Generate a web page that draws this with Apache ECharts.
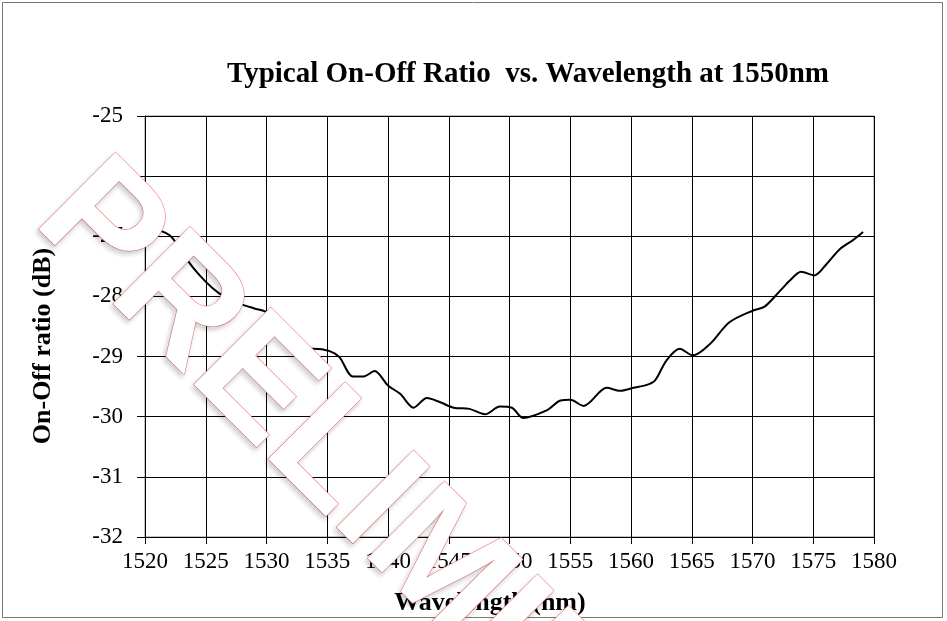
<!DOCTYPE html>
<html>
<head>
<meta charset="utf-8">
<script src="https://cdn.jsdelivr.net/npm/echarts@6/dist/echarts.min.js"></script>
<style>
  html, body { margin: 0; padding: 0; background: #fff; }
  #main { width: 947px; height: 621px; }
</style>
</head>
<body>
<div id="main"></div>
<script>
// wavelength (nm) and on-off ratio (dB)
var wavelength = [
  1520.8, 1521.3, 1522.0, 1522.6, 1523.5, 1524.5, 1525.5, 1526.5, 1527.8, 1529.0,
  1530.0, 1531.4, 1533.0, 1533.9, 1535.2, 1536.0, 1537.1, 1538.0, 1538.9, 1540.0,
  1541.0, 1542.1, 1543.2, 1544.3, 1545.4, 1546.7, 1548.0, 1549.2, 1550.2, 1551.1,
  1553.1, 1554.2, 1555.0, 1556.1, 1558.0, 1559.1, 1560.2, 1561.3, 1562.0, 1562.9,
  1564.0, 1565.1, 1566.5, 1568.1, 1570.1, 1571.0, 1572.3, 1573.1, 1574.0, 1575.1,
  1576.1, 1577.2, 1578.3, 1579.1
];
var ratio = [
  -26.90, -26.91, -26.98, -27.12, -27.40, -27.65, -27.85, -28.00, -28.12, -28.20,
  -28.26, -28.46, -28.87, -28.87, -28.91, -29.01, -29.33, -29.33, -29.24, -29.48,
  -29.62, -29.85, -29.69, -29.76, -29.85, -29.87, -29.96, -29.83, -29.85, -30.02,
  -29.89, -29.73, -29.72, -29.82, -29.52, -29.57, -29.52, -29.47, -29.39, -29.07,
  -28.87, -28.98, -28.79, -28.43, -28.23, -28.17, -27.90, -27.73, -27.59, -27.65,
  -27.46, -27.21, -27.06, -26.93
];
var xTicks = [1520, 1580, 5];
var yTicks = [-32, -25, 1];

var chartTitle = 'Typical On-Off Ratio  vs. Wavelength at 1550nm';
var xName = 'Wavelength (nm)';
var yName = 'On-Off ratio (dB)';
var stamp = 'PRELIMINARY';

var serif = '"Liberation Serif", "Times New Roman", serif';

var myChart = echarts.init(document.getElementById('main'));

var points = wavelength.map(function (w, i) { return [w, ratio[i]]; });

// watermark: baseline runs down-right at 45 degrees
var ang = -Math.PI / 4;

var option = {
  animation: false,
  backgroundColor: '#fff',
  title: {
    text: chartTitle,
    left: 523,
    top: 55,
    textAlign: 'center',
    textStyle: { fontFamily: serif, fontSize: 29, fontWeight: 'bold', color: '#000' }
  },
  grid: {
    left: 145, right: 73, top: 116, bottom: 84,
    show: true, borderColor: '#888', borderWidth: 1
  },
  xAxis: {
    type: 'value',
    min: xTicks[0], max: xTicks[1], interval: xTicks[2],
    axisLine: { onZero: false, lineStyle: { color: '#000', width: 1 } },
    axisTick: { show: true, length: 7, lineStyle: { color: '#000' } },
    axisLabel: {
      fontFamily: serif, fontSize: 23, color: '#000', margin: 13,
      formatter: function (v) { return String(v); }
    },
    splitLine: { show: true, lineStyle: { color: '#000', width: 1 } }
  },
  yAxis: {
    type: 'value',
    min: yTicks[0], max: yTicks[1], interval: yTicks[2],
    axisLine: { show: true, onZero: false, lineStyle: { color: '#000', width: 1 } },
    axisTick: { show: true, length: 8, lineStyle: { color: '#000' } },
    axisLabel: { fontFamily: serif, fontSize: 23, color: '#000', margin: 22 },
    splitLine: { show: true, lineStyle: { color: '#000', width: 1 } }
  },
  series: [{
    type: 'line',
    data: points,
    smooth: 0.3,
    showSymbol: false,
    lineStyle: { color: '#000', width: 2 }
  }],
  graphic: [
    {
      type: 'rect', z: 0, silent: true,
      shape: { x: 2.5, y: 2.5, width: 940, height: 615 },
      style: { fill: 'none', stroke: '#777', lineWidth: 1 }
    },
    {
      type: 'text', z: 50,
      x: 43, y: 346, rotation: Math.PI / 2,
      style: {
        text: yName, fontFamily: serif, fontSize: 26, fontWeight: 'bold', fill: '#000',
        align: 'center', verticalAlign: 'middle'
      }
    },
    {
      type: 'text', z: 50,
      x: 490, y: 603,
      style: {
        text: xName, fontFamily: serif, fontSize: 26, fontWeight: 'bold', fill: '#000',
        align: 'center', verticalAlign: 'middle'
      }
    },
    {
      type: 'text', z: 100, silent: true,
      x: 62, y: 191, rotation: ang,
      style: {
        text: stamp,
        fontFamily: '"Liberation Sans", Arial, sans-serif',
        fontSize: 158,
        fontWeight: 'bold',
        fill: '#fff', stroke: '#f28080', lineWidth: 1.2,
        align: 'left', verticalAlign: 'middle',
        textShadowBlur: 5, textShadowColor: 'rgba(0,0,0,0.18)',
        textShadowOffsetX: -2, textShadowOffsetY: 3
      }
    }
  ]
};
myChart.setOption(option);
</script>
</body>
</html>
